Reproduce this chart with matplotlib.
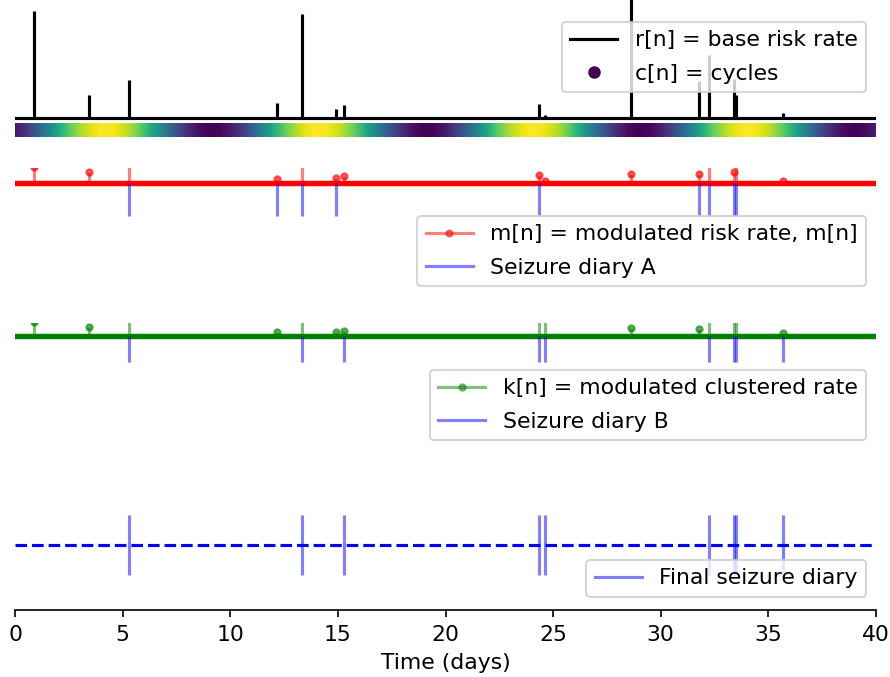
import matplotlib
matplotlib.use("Agg")
import matplotlib.pyplot as plt
import numpy as np
from matplotlib.lines import Line2D

plt.rcParams['font.size'] = 10.5
plt.rcParams['legend.labelspacing'] = 0.62
plt.rcParams['legend.borderpad'] = 0.38
plt.rcParams['legend.handlelength'] = 2.15

# base risk rate spikes (days, height)
r_days = [0.23, 0.88, 3.44, 5.30, 7.57, 8.77, 12.16, 13.33, 14.91, 15.28, 17.55, 21.9,
          22.77, 23.6, 24.35, 24.64, 28.62, 31.78, 32.23, 33.38, 33.48, 35.66, 39.17]
r_vals = [0.01, 1.07, 0.23, 0.38, 0.01, 0.01, 0.15, 1.04, 0.09, 0.13, 0.01, 0.01,
          0.01, 0.01, 0.14, 0.03, 1.30, 0.37, 0.63, 0.39, 0.23, 0.05, 0.01]

# cycles, sampled every half day from 0 to 40
c_days = np.arange(0, 40.5, 0.5)
c_vals = [0.06, 0.15, 0.28, 0.43, 0.59, 0.74, 0.86, 0.95, 1.00, 0.99,
          0.94, 0.84, 0.71, 0.56, 0.40, 0.25, 0.13, 0.04, 0.00, 0.01,
          0.07, 0.16, 0.30, 0.45, 0.61, 0.75, 0.87, 0.96, 1.00, 0.99,
          0.93, 0.83, 0.70, 0.54, 0.39, 0.24, 0.12, 0.04, 0.00, 0.01,
          0.07, 0.18, 0.31, 0.46, 0.62, 0.77, 0.88, 0.96, 1.00, 0.98,
          0.92, 0.82, 0.68, 0.53, 0.37, 0.23, 0.11, 0.03, 0.00, 0.02,
          0.08, 0.19, 0.33, 0.48, 0.64, 0.78, 0.89, 0.97, 1.00, 0.98,
          0.91, 0.80, 0.67, 0.51, 0.36, 0.21, 0.10, 0.03, 0.00, 0.02,
          0.09]

# modulated risk rate m[n] and clustered rate k[n]
mk_days = [0.88, 3.44, 5.30, 12.16, 13.33, 14.91, 15.28, 24.35,
           24.64, 28.62, 31.78, 32.23, 33.38, 33.48, 35.66]
m_vals = [0.165, 0.113, 0.30, 0.045, 0.30, 0.05, 0.07, 0.085,
          0.02, 0.097, 0.09, 0.30, 0.113, 0.30, 0.02]
k_vals = [0.14, 0.09, 0.30, 0.037, 0.30, 0.04, 0.053, 0.30,
          0.30, 0.077, 0.067, 0.30, 0.30, 0.30, 0.03]

# seizure diaries
diary_a = [5.30, 12.16, 13.33, 14.91, 24.35, 31.78, 32.23, 33.38, 33.48]
diary_b = [5.30, 13.33, 15.28, 24.35, 24.64, 32.23, 33.38, 33.48, 35.66]
diary_final = [5.30, 13.33, 15.28, 24.35, 24.64, 32.23, 33.38, 33.48, 35.66]

W, H = 890, 677
fig = plt.figure(figsize=(W / 150, H / 150), dpi=150)
X0, X1 = 15, 876


def add_row(top, bot, base=None, unit=100.0):
    ax = fig.add_axes([X0 / W, 1 - bot / H, (X1 - X0) / W, (bot - top) / H])
    if base is not None:
        ax.set_ylim(-(bot - base) / unit, (base - top) / unit)
    ax.set_xlim(0, 40)
    for s in ax.spines.values():
        s.set_visible(False)
    ax.set_xticks([])
    ax.set_yticks([])
    ax.patch.set_alpha(0)
    return ax


def fig_anchor(x, y):
    return (x / W, 1 - y / H)


# base risk rate
ax_r = add_row(0, 121, base=118.3)
ax_r.axhline(0, color='k', lw=1.5)
ax_r.vlines(r_days, 0, r_vals, color='k', lw=1.5)

# cycles band
ax_c = add_row(122.7, 136.7)
ax_c.imshow(np.array([c_vals]), cmap='viridis', vmin=0, vmax=1, aspect='auto',
            interpolation='bilinear', extent=[c_days[0] - 0.25, c_days[-1] + 0.25, 0, 1])
ax_c.set_xlim(0, 40)
ax_c.set_ylim(0, 1)

h_r = Line2D([], [], color='k', lw=1.5)
h_c = Line2D([], [], ls='none', marker='o', ms=5, color=plt.cm.viridis(0.0))
ax_r.legend([h_r, h_c], ['r[n] = base risk rate', 'c[n] = cycles'],
            loc='upper right', bbox_to_anchor=fig_anchor(866, 22),
            bbox_transform=fig.transFigure, borderaxespad=0)

# modulated risk rate + diary A
ax_m = add_row(167.5, 295, base=183.3)
ax_m.axhline(0, color='red', lw=2.6)
ax_m.vlines(mk_days, 0, m_vals, color='red', alpha=0.5, lw=1.5)
ax_m.plot(mk_days, m_vals, '.', color='red', alpha=0.6)
ax_m.vlines(diary_a, -0.327, 0, color='blue', alpha=0.5, lw=1.5)
h_m = Line2D([], [], color='red', alpha=0.5, lw=1.5, marker='.')
h_a = Line2D([], [], color='blue', alpha=0.5, lw=1.5)
ax_m.legend([h_m, h_a], ['m[n] = modulated risk rate, m[n]', 'Seizure diary A'],
            loc='upper right', bbox_to_anchor=fig_anchor(866, 216),
            bbox_transform=fig.transFigure, borderaxespad=0)

# modulated clustered rate + diary B
ax_k = add_row(323, 450, base=336)
ax_k.axhline(0, color='green', lw=2.6)
ax_k.vlines(mk_days, 0, k_vals, color='green', alpha=0.5, lw=1.5)
ax_k.plot(mk_days, k_vals, '.', color='green', alpha=0.6)
ax_k.vlines(diary_b, -0.26, 0, color='blue', alpha=0.5, lw=1.5)
h_k = Line2D([], [], color='green', alpha=0.5, lw=1.5, marker='.')
h_b = Line2D([], [], color='blue', alpha=0.5, lw=1.5)
ax_k.legend([h_k, h_b], ['k[n] = modulated clustered rate', 'Seizure diary B'],
            loc='upper right', bbox_to_anchor=fig_anchor(866, 370),
            bbox_transform=fig.transFigure, borderaxespad=0)

# final diary
ax_f = add_row(450, 610, base=544.5)
ax_f.axhline(0, color='blue', ls='--', lw=1.5)
ax_f.vlines(diary_final, -0.30, 0.30, color='blue', alpha=0.5, lw=1.5)
h_f = Line2D([], [], color='blue', alpha=0.5, lw=1.5)
ax_f.legend([h_f], ['Final seizure diary'],
            loc='upper right', bbox_to_anchor=fig_anchor(866, 560),
            bbox_transform=fig.transFigure, borderaxespad=0)
ax_f.spines['bottom'].set_visible(True)
ax_f.set_xticks(np.arange(0, 45, 5))
ax_f.set_xlabel('Time (days)')

fig.savefig('out.png', dpi=150)
